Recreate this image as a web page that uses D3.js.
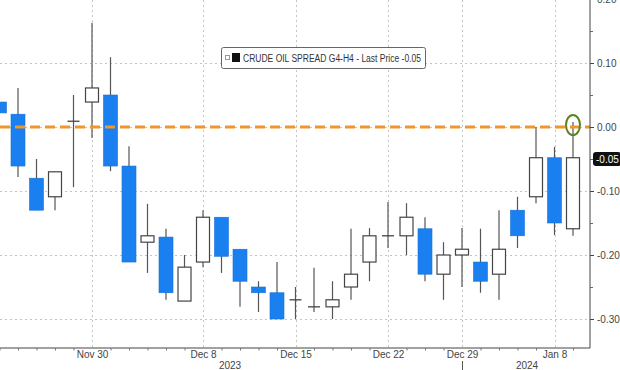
<!DOCTYPE html>
<html><head><meta charset="utf-8">
<script src="https://cdn.jsdelivr.net/npm/d3@7"></script>
<style>html,body{margin:0;padding:0;background:#fff;}svg{display:block;font-family:"Liberation Sans","DejaVu Sans",sans-serif;}</style>
</head><body>
<svg id="c" width="620" height="370"></svg>
<script>
const dates = ["Nov 22","Nov 24","Nov 27","Nov 28","Nov 29","Nov 30","Dec 1","Dec 4","Dec 5","Dec 6","Dec 7","Dec 8","Dec 11","Dec 12","Dec 13","Dec 14","Dec 15","Dec 18","Dec 19","Dec 20","Dec 21","Dec 22","Dec 26","Dec 27","Dec 28","Dec 29","Jan 2","Jan 3","Jan 4","Jan 5","Jan 8","Jan 9"];
const openV  = [0.039,0.020,-0.080,-0.109,0.009,0.039,0.050,-0.061,-0.180,-0.172,-0.272,-0.211,-0.141,-0.191,-0.250,-0.259,-0.270,-0.281,-0.281,-0.250,-0.211,-0.170,-0.170,-0.159,-0.230,-0.200,-0.211,-0.230,-0.130,-0.109,-0.048,-0.159];
const highV  = [0.039,0.061,-0.050,-0.070,0.050,0.163,0.109,-0.030,-0.120,-0.159,-0.200,-0.130,-0.141,-0.191,-0.241,-0.211,-0.250,-0.220,-0.241,-0.159,-0.158,-0.117,-0.119,-0.141,-0.180,-0.158,-0.159,-0.130,-0.109,0.000,-0.031,0.008];
const lowV   = [0.022,-0.078,-0.130,-0.130,-0.094,-0.017,-0.069,-0.211,-0.228,-0.270,-0.272,-0.219,-0.228,-0.281,-0.289,-0.300,-0.300,-0.289,-0.300,-0.270,-0.241,-0.189,-0.200,-0.241,-0.270,-0.250,-0.259,-0.270,-0.189,-0.119,-0.169,-0.170];
const closeV = [0.022,-0.061,-0.130,-0.070,0.009,0.061,-0.061,-0.211,-0.170,-0.259,-0.219,-0.141,-0.202,-0.241,-0.259,-0.300,-0.270,-0.281,-0.270,-0.230,-0.170,-0.170,-0.141,-0.230,-0.200,-0.191,-0.241,-0.191,-0.170,-0.048,-0.150,-0.048];
const xTickLabels = ["Nov 30","Dec 8","Dec 15","Dec 22","Dec 29","Jan 8"];
const yTicks = [0.20,0.10,0.00,-0.10,-0.20,-0.30];
const yMinorTicks = [0.15,0.05,-0.05,-0.15,-0.25];
const years = [{label:"2023", from:"Dec 8"},{label:"2024", from:"Jan 3"}];
const refLevel = 0.00;
const lastPrice = -0.05;
const legendText = "CRUDE OIL SPREAD G4-H4 - Last Price -0.05";

const svg = d3.select("#c");
const axisX = 590, axisY = 348;
const x = d3.scalePoint().domain(dates).range([-0.5, 573]);
const y = d3.scaleLinear().domain([0.20, -0.35]).range([-1, 351]);
const cw = 14;

// grid
const grid = svg.append("g").attr("stroke","#c4c4c4").attr("stroke-width",1).attr("stroke-dasharray","2,3");
yTicks.forEach(v => grid.append("line").attr("x1",0).attr("x2",axisX).attr("y1",Math.round(y(v))+0.5).attr("y2",Math.round(y(v))+0.5));
xTickLabels.forEach(d => grid.append("line").attr("x1",Math.round(x(d))+0.5).attr("x2",Math.round(x(d))+0.5).attr("y1",0).attr("y2",axisY));

// candles
const data = dates.map((d,i)=>({d,o:openV[i],h:highV[i],l:lowV[i],c:closeV[i]}));
const cg = svg.append("g");
data.forEach(p => {
  const cx = x(p.d);
  cg.append("line").attr("x1",cx).attr("x2",cx).attr("y1",y(p.h)).attr("y2",y(p.l)).attr("stroke","#555").attr("stroke-width",1.2);
  const up = p.c >= p.o;
  const top = y(Math.max(p.o,p.c)), bot = y(Math.min(p.o,p.c));
  if (Math.abs(p.c-p.o) < 0.001) {
    cg.append("line").attr("x1",cx-cw/2+1).attr("x2",cx+cw/2-1).attr("y1",top).attr("y2",top).attr("stroke","#444").attr("stroke-width",1.3);
  } else if (up) {
    cg.append("rect").attr("x",cx-cw/2+0.5).attr("y",top).attr("width",cw-1).attr("height",Math.max(1,bot-top)).attr("fill","#fff").attr("stroke","#444").attr("stroke-width",1.2);
  } else {
    cg.append("rect").attr("x",cx-cw/2).attr("y",top).attr("width",cw).attr("height",Math.max(1,bot-top)).attr("fill","#1a80f0").attr("stroke","#1670d8").attr("stroke-width",0.6);
  }
});

// reference line
svg.append("line").attr("x1",0).attr("x2",axisX).attr("y1",y(refLevel)).attr("y2",y(refLevel))
  .attr("stroke","#f0962a").attr("stroke-width",3).attr("stroke-dasharray","10,5");

// ellipse highlight
svg.append("ellipse").attr("cx",x("Jan 9")).attr("cy",y(refLevel)-2).attr("rx",7).attr("ry",10)
  .attr("fill","none").attr("stroke","#5e8223").attr("stroke-width",2);

// right axis
const ra = svg.append("g").attr("transform",`translate(${axisX},0)`)
  .call(d3.axisRight(y).tickValues(yTicks).tickSize(4).tickPadding(3).tickFormat(d3.format(".2f")));
ra.select(".domain").attr("d",`M0,-2V${axisY}`).attr("stroke","#444");
ra.selectAll(".tick line").attr("stroke","#444");
ra.selectAll(".tick text").attr("fill","#444").attr("font-size",10).attr("font-family","Liberation Sans, DejaVu Sans, sans-serif").text(d=>d3.format(".2f")(d).replace("−","-"));
const rm = svg.append("g").attr("transform",`translate(${axisX},0)`)
  .call(d3.axisRight(y).tickValues(yMinorTicks).tickSize(3).tickFormat(""));
rm.select(".domain").remove();
rm.selectAll(".tick line").attr("stroke","#666");

// last price label
const lp = svg.append("g").attr("transform",`translate(593,${y(lastPrice)})`);
lp.append("rect").attr("x",0).attr("y",-7).attr("width",28).attr("height",14).attr("rx",3).attr("fill","#111");
lp.append("text").attr("x",3).attr("y",4).attr("fill","#fff").attr("font-size",10).text(d3.format(".2f")(lastPrice).replace("−","-"));

// bottom axis
const ba = svg.append("g").attr("transform",`translate(0,${axisY})`)
  .call(d3.axisBottom(x).tickValues(dates.filter(d=>!xTickLabels.includes(d))).tickSize(2.5).tickFormat(""));
ba.select(".domain").attr("d",`M0,0H${axisX}`).attr("stroke","#444");
ba.selectAll(".tick line").attr("stroke","#777");
const bl = svg.append("g").attr("transform",`translate(0,${axisY})`)
  .call(d3.axisBottom(x).tickValues(xTickLabels).tickSize(0).tickPadding(3));
bl.select(".domain").remove();
bl.selectAll(".tick text").attr("fill","#444").attr("font-size",10).attr("font-family","Liberation Sans, DejaVu Sans, sans-serif");

// years
svg.append("text").attr("x",230).attr("y",369).attr("text-anchor","middle").attr("font-size",10).attr("fill","#444").text(years[0].label);
svg.append("text").attr("x",527).attr("y",369).attr("text-anchor","middle").attr("font-size",10).attr("fill","#444").text(years[1].label);
svg.append("line").attr("x1",Math.round(x("Dec 29"))+0.5).attr("x2",Math.round(x("Dec 29"))+0.5).attr("y1",361).attr("y2",370).attr("stroke","#555");

// legend
const lg = svg.append("g");
lg.append("rect").attr("x",221.5).attr("y",47.5).attr("width",204).attr("height",21).attr("rx",2).attr("fill","#fff").attr("stroke","#666");
lg.append("rect").attr("x",225.5).attr("y",55.5).attr("width",4).attr("height",4).attr("fill","#fff").attr("stroke","#999");
lg.append("rect").attr("x",232).attr("y",53).attr("width",8).attr("height",9).attr("fill","#111");
lg.append("text").attr("x",243).attr("y",62).attr("font-size",10).attr("fill","#333").attr("textLength",178).attr("lengthAdjust","spacingAndGlyphs").text(legendText);
</script>
</body></html>
